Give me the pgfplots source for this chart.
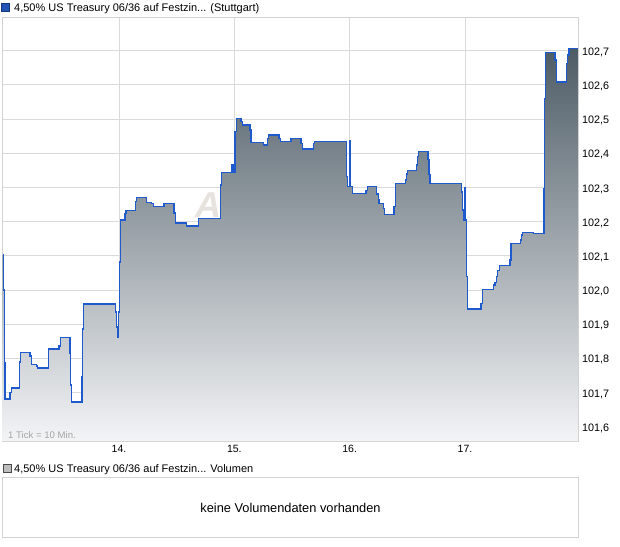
\documentclass[border=0pt]{standalone}
\usepackage{fontspec}
\setmainfont{Liberation Sans}
\usepackage{pgfplots}
\usepackage{pgfplotstable}
\pgfplotsset{compat=1.18}
\definecolor{gridc}{RGB}{218,218,218}
\definecolor{framec}{RGB}{210,210,210}
\definecolor{lineblue}{RGB}{30,90,205}
\definecolor{shadetop}{RGB}{78,92,102}
\definecolor{shadebot}{RGB}{243,244,246}
\definecolor{wmark}{RGB}{230,226,222}
\definecolor{tickgrey}{RGB}{165,165,165}
\definecolor{legblue}{RGB}{36,84,180}
\definecolor{legblueb}{RGB}{22,54,122}
\definecolor{leggrey}{RGB}{190,190,190}
\definecolor{leggreyb}{RGB}{74,74,74}
\pgfplotstableread{
d v
12.991 102.102
12.997 102.000
13.005 101.786
13.011 101.681
13.055 101.701
13.069 101.713
13.135 101.789
13.147 101.818
13.228 101.807
13.239 101.783
13.286 101.778
13.291 101.772
13.390 101.827
13.480 101.836
13.491 101.862
13.575 101.816
13.581 101.722
13.586 101.672
13.679 101.745
13.685 101.886
13.690 101.959
13.968 101.936
13.980 101.892
13.985 101.862
13.994 101.936
14.003 102.082
14.015 102.205
14.052 102.224
14.061 102.232
14.145 102.258
14.154 102.271
14.240 102.255
14.284 102.252
14.297 102.244
14.390 102.252
14.477 102.225
14.488 102.196
14.587 102.187
14.688 102.210
14.882 102.307
14.891 102.343
14.977 102.366
14.987 102.343
15.006 102.463
15.021 102.502
15.058 102.492
15.073 102.483
15.136 102.468
15.145 102.432
15.252 102.424
15.286 102.444
15.295 102.453
15.388 102.444
15.402 102.434
15.492 102.444
15.578 102.429
15.593 102.412
15.685 102.429
15.694 102.434
15.975 102.331
15.984 102.302
16.002 102.437
16.009 102.302
16.023 102.283
16.142 102.292
16.154 102.302
16.235 102.281
16.249 102.263
16.255 102.254
16.292 102.239
16.301 102.221
16.385 102.244
16.396 102.312
16.487 102.322
16.495 102.339
16.504 102.349
16.582 102.366
16.591 102.390
16.599 102.405
16.680 102.382
16.689 102.338
16.697 102.312
16.969 102.287
16.981 102.234
16.990 102.205
17.001 102.300
17.007 102.205
17.016 102.039
17.024 101.944
17.140 101.961
17.151 102.002
17.246 102.015
17.261 102.022
17.276 102.039
17.284 102.058
17.298 102.072
17.391 102.088
17.400 102.137
17.484 102.146
17.493 102.161
17.501 102.169
17.593 102.166
17.686 102.297
17.689 102.561
17.701 102.695
17.781 102.673
17.796 102.608
17.883 102.663
17.892 102.687
17.903 102.707
17.983 102.707
}\pricedata
\begin{document}
\begin{tikzpicture}[x=1pt,y=1pt]
\path[use as bounding box] (0,0) rectangle (620,546);
\begin{axis}[
  at={(2.7pt,105pt)}, anchor=south west,
  width=575.6pt, height=424pt, scale only axis,
  xmin=12.991, xmax=17.983, ymin=101.5582, ymax=102.7986,
  axis line style={draw=framec, line width=0.8pt},
  grid=major, grid style={draw=gridc, line width=0.9pt},
  major tick length=0pt,
  xtick={14,15,16,17}, xticklabels={14.,15.,16.,17.},
  ytick={101.6,101.7,101.8,101.9,102.0,102.1,102.2,102.3,102.4,102.5,102.6,102.7},
  yticklabels={{101,6},{101,7},{101,8},{101,9},{102,0},{102,1},{102,2},{102,3},{102,4},{102,5},{102,6},{102,7}},
  yticklabel pos=right,
  xticklabel style={font=\fontsize{10.5}{12}\selectfont, inner sep=0pt, anchor=north, yshift=-4pt},
  yticklabel style={font=\fontsize{10.8}{12}\selectfont, inner sep=0pt, anchor=west, xshift=3.5pt, yshift=-1.5pt},
]
\node[anchor=west, text=wmark, inner sep=0pt, font=\fontsize{36}{36}\selectfont\itshape\bfseries] at (axis cs:14.66,102.25) {Ariva};
\addplot[const plot, draw=none, top color=shadetop, bottom color=shadebot] table[x=d,y=v]{\pricedata} \closedcycle;
\addplot[const plot, draw=lineblue, line width=1.3pt] table[x=d,y=v]{\pricedata};
\end{axis}
% top legend
\draw[fill=legblue, draw=legblueb, line width=0.6pt] (1.3,534.3) rectangle (9.5,542.5);
\node[anchor=base west, inner sep=0pt, font=\fontsize{11}{13}\selectfont] at (14,534) {4,50\% US Treasury 06/36 auf Festzin... (Stuttgart)};
% tick note
\node[anchor=base west, inner sep=0pt, text=tickgrey, font=\fontsize{9.6}{11}\selectfont] at (8,107.5) {1 Tick = 10 Min.};
% volume legend
\draw[fill=leggrey, draw=leggreyb, line width=0.6pt] (3.3,73.5) rectangle (11,81.3);
\node[anchor=base west, inner sep=0pt, font=\fontsize{11}{13}\selectfont] at (14,73.7) {4,50\% US Treasury 06/36 auf Festzin... Volumen};
% volume box
\draw[framec, line width=0.8pt] (2.7,8.5) rectangle (578.3,68.5);
\node[font=\fontsize{12.8}{14}\selectfont] at (290.5,38.5) {keine Volumendaten vorhanden};
\end{tikzpicture}
\end{document}
